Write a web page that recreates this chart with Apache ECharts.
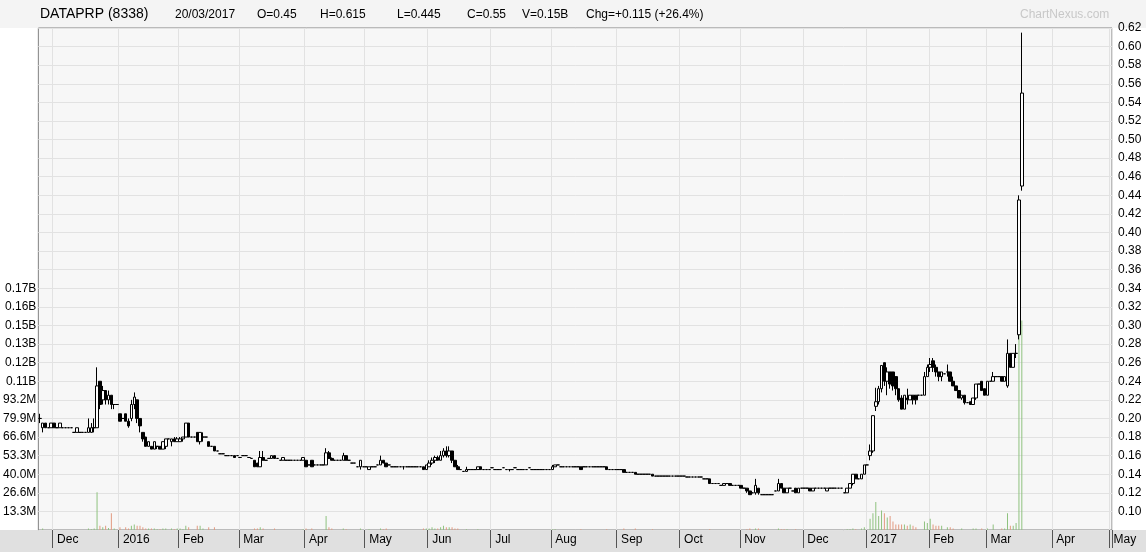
<!DOCTYPE html>
<html><head><meta charset="utf-8">
<script src="https://cdn.jsdelivr.net/npm/echarts@6/dist/echarts.min.js"></script>
<style>html,body{margin:0;padding:0;background:#fff}#c{width:1146px;height:552px}</style>
</head><body><div id="c"></div>
<script>
// each day: [open, close, low, high, volume(M)]
const nov15=[[0.20,0.20,0.195,0.205,0],[0.19,0.195,0.185,0.195,1],[0.195,0.19,0.19,0.195,0],[0.19,0.19,0.19,0.19,0],[0.19,0.195,0.19,0.195,0]];
const dec15=[[0.195,0.19,0.19,0.195,0],[0.19,0.19,0.19,0.19,0],[0.19,0.195,0.19,0.195,0],[0.19,0.19,0.19,0.19,0],[0.19,0.19,0.19,0.19,0],[0.19,0.19,0.19,0.19,0],[0.19,0.19,0.19,0.19,0],[0.185,0.185,0.185,0.185,0],[0.185,0.19,0.185,0.19,0],[0.185,0.185,0.185,0.185,0],[0.185,0.185,0.185,0.185,0],[0.185,0.185,0.185,0.185,0],[0.185,0.19,0.185,0.2,1],[0.185,0.19,0.185,0.195,0.5],[0.19,0.19,0.185,0.2,1],[0.19,0.235,0.19,0.255,27],[0.24,0.215,0.21,0.24,3],[0.22,0.23,0.215,0.235,2],[0.23,0.22,0.215,0.23,3],[0.22,0.225,0.215,0.23,1.5],[0.225,0.215,0.21,0.225,12],[0.215,0.215,0.21,0.215,1],[0.215,0.215,0.215,0.215,0]];
const jan16=[[0.205,0.197,0.197,0.205,2],[0.2,0.2,0.2,0.2,0],[0.205,0.197,0.197,0.205,2],[0.197,0.192,0.19,0.2,1],[0.2,0.215,0.197,0.22,3],[0.215,0.223,0.21,0.228,4],[0.22,0.2,0.195,0.22,3],[0.2,0.192,0.185,0.2,3],[0.185,0.178,0.175,0.185,2],[0.18,0.17,0.17,0.18,1],[0.17,0.175,0.17,0.175,1],[0.17,0.167,0.167,0.17,1],[0.167,0.175,0.167,0.175,1],[0.17,0.17,0.167,0.17,0.5],[0.17,0.167,0.167,0.17,0.5],[0.167,0.175,0.167,0.175,1],[0.17,0.178,0.167,0.178,1],[0.178,0.178,0.178,0.178,0],[0.175,0.178,0.17,0.178,1],[0.178,0.175,0.175,0.18,0.5],[0.175,0.178,0.175,0.18,1]];
const feb16=[[0.175,0.178,0.175,0.18,1],[0.178,0.18,0.175,0.18,0.5],[0.18,0.195,0.18,0.195,3],[0.195,0.18,0.18,0.195,2],[0.18,0.18,0.18,0.18,0],[0.18,0.18,0.18,0.18,0],[0.185,0.175,0.175,0.185,3],[0.175,0.185,0.172,0.185,3],[0.18,0.18,0.175,0.185,1],[0.18,0.18,0.18,0.18,0],[0.175,0.17,0.17,0.175,2],[0.17,0.17,0.17,0.17,0],[0.17,0.165,0.165,0.17,2],[0.165,0.165,0.165,0.165,0],[0.162,0.162,0.162,0.162,0],[0.162,0.162,0.162,0.162,0],[0.16,0.16,0.16,0.16,0],[0.16,0.16,0.16,0.16,0],[0.16,0.16,0.16,0.16,0],[0.16,0.158,0.158,0.16,0],[0.16,0.16,0.16,0.16,0]];
const mar16=[[0.158,0.158,0.158,0.158,0],[0.16,0.16,0.16,0.16,0],[0.16,0.16,0.16,0.16,0],[0.158,0.158,0.158,0.158,0],[0.157,0.157,0.157,0.157,0],[0.155,0.148,0.148,0.155,1],[0.152,0.148,0.148,0.152,1],[0.148,0.158,0.148,0.165,2],[0.158,0.155,0.155,0.165,1],[0.155,0.155,0.155,0.155,0],[0.157,0.157,0.157,0.157,0],[0.157,0.16,0.157,0.16,0],[0.16,0.157,0.157,0.16,1],[0.157,0.157,0.157,0.157,0],[0.155,0.155,0.155,0.155,0],[0.155,0.158,0.155,0.158,0],[0.155,0.155,0.155,0.155,0],[0.155,0.155,0.155,0.155,0],[0.155,0.155,0.155,0.155,0],[0.155,0.155,0.155,0.155,0],[0.155,0.155,0.155,0.155,0],[0.155,0.155,0.155,0.155,0],[0.155,0.158,0.155,0.158,0.5]];
const apr16=[[0.155,0.148,0.148,0.155,1],[0.15,0.15,0.15,0.15,0],[0.155,0.148,0.148,0.155,1],[0.15,0.15,0.15,0.15,0],[0.15,0.15,0.15,0.15,0],[0.15,0.15,0.15,0.15,0],[0.15,0.15,0.15,0.15,0],[0.15,0.163,0.15,0.168,10],[0.163,0.157,0.157,0.165,2],[0.157,0.155,0.155,0.158,1],[0.155,0.155,0.155,0.155,0],[0.155,0.155,0.155,0.155,0],[0.155,0.155,0.155,0.155,0],[0.155,0.16,0.155,0.163,1],[0.16,0.155,0.155,0.16,0.5],[0.155,0.155,0.155,0.155,0],[0.152,0.152,0.152,0.152,0],[0.152,0.152,0.152,0.152,0],[0.148,0.148,0.148,0.148,0],[0.148,0.155,0.145,0.155,1],[0.148,0.148,0.148,0.148,0]];
const may16=[[0.148,0.148,0.148,0.148,0],[0.145,0.148,0.145,0.148,0.5],[0.148,0.148,0.148,0.148,0],[0.148,0.148,0.148,0.148,0],[0.15,0.15,0.15,0.15,0],[0.15,0.155,0.15,0.16,1],[0.155,0.152,0.152,0.155,0.5],[0.152,0.148,0.148,0.152,1],[0.15,0.15,0.15,0.15,0],[0.148,0.148,0.148,0.148,0],[0.148,0.148,0.148,0.148,0],[0.148,0.148,0.148,0.148,0],[0.148,0.148,0.148,0.148,0],[0.148,0.148,0.145,0.148,0],[0.148,0.148,0.148,0.148,0],[0.148,0.148,0.148,0.148,0],[0.148,0.148,0.148,0.148,0],[0.148,0.148,0.148,0.148,0],[0.148,0.148,0.148,0.148,0],[0.148,0.148,0.148,0.148,0],[0.148,0.145,0.145,0.148,1],[0.145,0.15,0.145,0.15,1]];
const jun16=[[0.148,0.152,0.148,0.155,1],[0.152,0.155,0.15,0.158,2],[0.155,0.158,0.152,0.16,1],[0.158,0.155,0.155,0.16,1],[0.155,0.16,0.155,0.165,2],[0.16,0.165,0.158,0.168,3],[0.165,0.16,0.158,0.17,2],[0.16,0.165,0.158,0.17,2],[0.165,0.155,0.152,0.165,2],[0.155,0.148,0.148,0.155,1],[0.148,0.145,0.145,0.15,1],[0.145,0.145,0.145,0.145,0],[0.143,0.143,0.143,0.143,0],[0.143,0.145,0.143,0.148,0.5],[0.145,0.145,0.145,0.145,0],[0.145,0.145,0.145,0.145,0],[0.145,0.145,0.145,0.145,0],[0.145,0.148,0.145,0.148,0.5],[0.148,0.145,0.145,0.148,0],[0.145,0.145,0.145,0.145,0],[0.145,0.145,0.145,0.145,0],[0.145,0.145,0.145,0.145,0]];
const jul16=[[0.147,0.147,0.147,0.147,0],[0.145,0.145,0.145,0.145,0],[0.145,0.145,0.145,0.145,0],[0.145,0.145,0.145,0.145,0],[0.147,0.147,0.147,0.147,0],[0.145,0.145,0.145,0.145,0],[0.145,0.145,0.143,0.145,0],[0.145,0.145,0.145,0.145,0],[0.147,0.147,0.147,0.147,0],[0.145,0.145,0.145,0.145,0],[0.145,0.145,0.145,0.145,0],[0.145,0.145,0.145,0.145,0],[0.145,0.145,0.145,0.145,0],[0.147,0.147,0.147,0.147,0],[0.145,0.145,0.145,0.145,0],[0.145,0.145,0.145,0.145,0],[0.145,0.145,0.145,0.145,0],[0.145,0.145,0.145,0.145,0],[0.145,0.145,0.145,0.145,0],[0.145,0.145,0.145,0.145,0],[0.145,0.145,0.145,0.145,0]];
const aug16=[[0.145,0.148,0.145,0.15,0.5],[0.148,0.15,0.148,0.15,0.5],[0.15,0.15,0.15,0.15,0],[0.148,0.148,0.148,0.148,0],[0.148,0.148,0.148,0.148,0],[0.148,0.148,0.148,0.148,0],[0.148,0.148,0.148,0.148,0],[0.148,0.148,0.148,0.148,0],[0.148,0.148,0.148,0.148,0],[0.148,0.148,0.148,0.148,0],[0.148,0.145,0.145,0.148,0.5],[0.148,0.148,0.148,0.148,0],[0.148,0.148,0.148,0.148,0],[0.148,0.148,0.148,0.148,0],[0.148,0.148,0.148,0.148,0],[0.148,0.148,0.148,0.148,0],[0.148,0.148,0.148,0.148,0],[0.148,0.148,0.148,0.148,0],[0.148,0.148,0.148,0.148,0],[0.148,0.145,0.145,0.148,0.5],[0.145,0.145,0.145,0.145,0],[0.145,0.145,0.145,0.145,0],[0.145,0.145,0.145,0.145,0]];
const sep16=[[0.145,0.145,0.145,0.145,0],[0.145,0.145,0.145,0.145,0],[0.145,0.142,0.142,0.145,1],[0.142,0.142,0.142,0.142,0],[0.142,0.142,0.142,0.142,0],[0.142,0.142,0.142,0.142,0],[0.142,0.14,0.14,0.142,1],[0.14,0.14,0.14,0.14,0],[0.14,0.14,0.14,0.14,0],[0.14,0.14,0.14,0.14,0],[0.14,0.14,0.14,0.14,0],[0.14,0.14,0.14,0.14,0],[0.14,0.138,0.138,0.14,0.5],[0.138,0.138,0.138,0.138,0],[0.138,0.138,0.138,0.138,0],[0.138,0.138,0.138,0.138,0],[0.138,0.138,0.138,0.138,0],[0.138,0.138,0.138,0.138,0],[0.138,0.138,0.138,0.138,0],[0.138,0.138,0.138,0.138,0],[0.138,0.138,0.138,0.138,0],[0.138,0.138,0.138,0.138,0]];
const oct16=[[0.138,0.138,0.138,0.138,0],[0.138,0.138,0.138,0.138,0],[0.137,0.137,0.137,0.137,0],[0.137,0.137,0.137,0.137,0],[0.137,0.137,0.137,0.137,0],[0.137,0.137,0.137,0.137,0],[0.137,0.137,0.137,0.137,0],[0.137,0.137,0.137,0.137,0],[0.135,0.135,0.135,0.135,0],[0.135,0.135,0.135,0.135,0],[0.135,0.13,0.13,0.135,0.5],[0.13,0.13,0.13,0.13,0],[0.13,0.13,0.13,0.13,0],[0.13,0.13,0.13,0.13,0],[0.128,0.128,0.128,0.128,0],[0.128,0.13,0.128,0.13,0],[0.13,0.13,0.13,0.13,0],[0.13,0.128,0.128,0.13,0],[0.128,0.128,0.128,0.128,0],[0.128,0.128,0.128,0.128,0],[0.128,0.128,0.128,0.128,0]];
const nov16=[[0.128,0.125,0.125,0.128,0],[0.125,0.125,0.125,0.125,0],[0.125,0.122,0.12,0.125,0.5],[0.122,0.118,0.118,0.122,1],[0.12,0.12,0.12,0.12,0],[0.12,0.128,0.118,0.135,1],[0.125,0.12,0.118,0.125,1],[0.118,0.118,0.118,0.118,0],[0.118,0.118,0.118,0.118,0],[0.118,0.118,0.118,0.118,0],[0.118,0.118,0.118,0.118,0],[0.118,0.118,0.118,0.118,0],[0.122,0.122,0.122,0.122,0],[0.122,0.13,0.122,0.135,1],[0.13,0.125,0.125,0.13,0.5],[0.125,0.12,0.12,0.125,0.5],[0.12,0.125,0.12,0.125,0.5],[0.125,0.125,0.125,0.125,0],[0.122,0.122,0.122,0.122,0],[0.125,0.12,0.12,0.125,0.5],[0.12,0.125,0.12,0.125,0],[0.125,0.125,0.125,0.125,0]];
const dec16=[[0.125,0.125,0.125,0.125,0],[0.125,0.125,0.125,0.125,0],[0.125,0.122,0.122,0.125,0],[0.122,0.125,0.122,0.125,0],[0.125,0.125,0.125,0.125,0],[0.125,0.125,0.125,0.125,0],[0.125,0.125,0.125,0.125,0],[0.125,0.125,0.125,0.125,0],[0.122,0.125,0.122,0.125,0],[0.125,0.125,0.125,0.125,0],[0.125,0.125,0.125,0.125,0],[0.125,0.125,0.125,0.125,0],[0.125,0.125,0.125,0.125,0],[0.125,0.125,0.125,0.125,0],[0.12,0.12,0.12,0.12,0],[0.12,0.125,0.12,0.125,0.5],[0.125,0.13,0.125,0.13,0.5],[0.13,0.14,0.128,0.14,1],[0.14,0.135,0.135,0.14,0.5],[0.135,0.135,0.135,0.135,0],[0.135,0.14,0.135,0.14,1],[0.14,0.15,0.14,0.15,2]];
const jan17=[[0.15,0.15,0.15,0.15,0],[0.16,0.165,0.155,0.172,8],[0.165,0.203,0.163,0.203,12],[0.213,0.218,0.208,0.233,20],[0.218,0.232,0.215,0.235,10],[0.232,0.257,0.228,0.257,14],[0.26,0.24,0.235,0.26,12],[0.24,0.25,0.225,0.255,9],[0.25,0.237,0.232,0.25,10],[0.25,0.235,0.23,0.25,6],[0.245,0.232,0.225,0.245,4],[0.232,0.22,0.218,0.232,4],[0.222,0.21,0.21,0.225,4],[0.21,0.225,0.21,0.225,4],[0.222,0.22,0.215,0.232,3],[0.22,0.225,0.22,0.225,4],[0.225,0.22,0.215,0.225,3],[0.225,0.22,0.215,0.225,2],[0.225,0.225,0.225,0.225,0],[0.225,0.225,0.225,0.225,0],[0.225,0.245,0.225,0.25,6],[0.245,0.255,0.245,0.258,5]];
const feb17=[[0.255,0.258,0.25,0.265,8],[0.262,0.255,0.25,0.265,4],[0.255,0.25,0.245,0.258,3],[0.25,0.245,0.24,0.25,3],[0.245,0.25,0.24,0.25,3],[0.248,0.248,0.248,0.248,0],[0.25,0.25,0.245,0.258,2],[0.25,0.24,0.24,0.25,2],[0.24,0.235,0.235,0.245,1],[0.235,0.23,0.23,0.235,0],[0.23,0.222,0.222,0.23,0],[0.222,0.225,0.22,0.225,1],[0.225,0.217,0.215,0.225,0],[0.217,0.217,0.217,0.217,0],[0.218,0.215,0.215,0.218,0],[0.215,0.222,0.215,0.222,1],[0.222,0.237,0.22,0.237,1],[0.237,0.237,0.237,0.237,0],[0.24,0.23,0.23,0.24,1],[0.232,0.225,0.225,0.232,0]];
const mar17=[[0.225,0.24,0.225,0.24,1],[0.24,0.24,0.24,0.24,0],[0.24,0.245,0.24,0.25,4],[0.245,0.245,0.245,0.245,0],[0.245,0.245,0.245,0.245,0],[0.245,0.24,0.24,0.245,1],[0.24,0.245,0.24,0.245,1],[0.235,0.27,0.233,0.285,12],[0.27,0.255,0.255,0.27,3],[0.255,0.27,0.255,0.27,3],[0.27,0.27,0.265,0.28,5],[0.29,0.435,0.285,0.44,170],[0.45,0.55,0.445,0.615,150]];
const months=['Jan','Feb','Mar','Apr','May','Jun','Jul','Aug','Sep','Oct','Nov','Dec'];
const header=[['DATAPRP (8338)',40,14],['20/03/2017',175,12],['O=0.45',257,12],['H=0.615',320,12],['L=0.445',397,12],['C=0.55',467,12],['V=0.15B',522,12],['Chg=+0.115 (+26.4%)',586,12]];

const days=[].concat(nov15,dec15,jan16,feb16,mar16,apr16,may16,jun16,jul16,aug16,sep16,oct16,nov16,dec16,jan17,feb17,mar17);
// trading-day categories (weekdays) from 24 Nov 2015 to 1 May 2017
const cats=[];
for(let d=new Date(Date.UTC(2015,10,24));d<=new Date(Date.UTC(2017,4,1));d.setUTCDate(d.getUTCDate()+1)){
  const w=d.getUTCDay(); if(w===0||w===6) continue;
  cats.push(d.getUTCFullYear()+'-'+(d.getUTCMonth()+1)+'-'+d.getUTCDate());
}
const isMonthStart=(i)=>{ if(i===0) return false; const a=cats[i].split('-'),b=cats[i-1].split('-'); return a[1]!==b[1]; };
// price axis works in cents to avoid floating-point tick drift
const candle=days.map(d=>[d[0]*100,d[1]*100,d[2]*100,d[3]*100]);
const vol=days.map(d=>({value:d[4]*1e6,itemStyle:{color:d[1]>=d[0]?'#8fc27f':'#e29a80'}}));
const VI=13.32e6;
const chart=echarts.init(document.getElementById('c'));
chart.setOption({
  animation:false, backgroundColor:'#ffffff',
  graphic:[
    {type:'rect',shape:{x:0,y:530,width:1146,height:22},style:{fill:'#e0e0e0'},z:-1},
    {type:'rect',shape:{x:0,y:0,width:1146,height:28},style:{fill:'#f4f4f4'},z:-1},
    ...header.map(h=>({type:'text',left:h[1],top:h[2]===14?7:9,style:{text:h[0],font:(h[2])+'px "Liberation Sans", Arial',fill:'#000'}})),
    {type:'text',left:1020,top:9,style:{text:'ChartNexus.com',font:'12px "Liberation Sans", Arial',fill:'#c8c8c8'}}
  ],
  grid:{left:38,right:34,top:28,bottom:22,show:true,backgroundColor:'#f7f7f7',borderColor:'#808080',borderWidth:1},
  xAxis:{type:'category',data:cats,boundaryGap:true,
    axisLine:{show:false},
    axisTick:{show:true,interval:(i)=>isMonthStart(i),length:18,lineStyle:{color:'#555'}},
    axisLabel:{interval:(i)=>isMonthStart(i),align:'left',margin:4,padding:[0,0,0,3],fontSize:12,color:'#000',fontFamily:'Liberation Sans, Arial',
      formatter:(v)=>{const p=v.split('-');return p[1]==='1'?p[0]:months[+p[1]-1];}},
    splitLine:{show:true,interval:(i)=>isMonthStart(i),lineStyle:{color:'#e2e2e2'}}},
  yAxis:[
    {type:'value',position:'right',min:8,max:62,interval:2,
     axisLine:{show:false},axisTick:{show:false},
     axisLabel:{showMinLabel:false,margin:6,fontSize:12,color:'#000',fontFamily:'Liberation Sans, Arial',formatter:v=>(v/100).toFixed(2)},
     splitLine:{lineStyle:{color:'#e2e2e2'}}},
    {type:'value',position:'left',min:0,max:27*VI,interval:VI,
     axisLine:{show:false},axisTick:{show:false},splitLine:{show:false},
     axisLabel:{showMinLabel:false,margin:2,fontSize:12,color:'#000',fontFamily:'Liberation Sans, Arial',
       formatter:v=>{ if(v<1||v>13.5*VI) return ''; return v<1e8?(v/1e6).toFixed(1)+'M':(v/1e9).toFixed(2)+'B'; }}}
  ],
  series:[
    {type:'bar',yAxisIndex:1,data:vol,barWidth:1,z:1},
    {type:'candlestick',yAxisIndex:0,data:candle,barWidth:3,z:3,
     itemStyle:{color:'#ffffff',color0:'#000000',borderColor:'#000000',borderColor0:'#000000',borderWidth:1}}
  ]
});
</script></body></html>
